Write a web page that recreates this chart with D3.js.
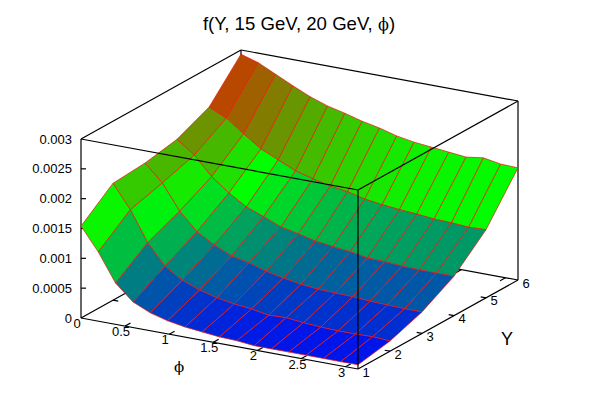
<!DOCTYPE html>
<html>
<head>
<meta charset="utf-8">
<script src="https://cdn.jsdelivr.net/npm/d3@7"></script>
<style>
body { margin: 0; background: white; }
text { font-family: "Liberation Sans", sans-serif; fill: #000; }
</style>
</head>
<body>
<svg width="599" height="420"></svg>
<script>
var titleText = "f(Y, 15 GeV, 20 GeV, ";
var phiGlyph = "\u03d5";

// Y rows, one list per Y value, values in phi order (pi/16 steps)
var yValues = [1, 2, 3, 4, 5, 6];
var phiStepCount = 16;
var zY1 = [0.00154, 0.00116, 0.00069, 0.00043, 0.00030, 0.00022, 0.00017, 0.00014, 0.00011, 0.00010, 0.00007, 0.00007, 0.00007, 0.00007, 0.00007, 0.00007, 0.00007];
var zY2 = [0.00196, 0.00157, 0.00107, 0.00073, 0.00055, 0.00044, 0.00036, 0.00031, 0.00028, 0.00023, 0.00024, 0.00021, 0.00019, 0.00018, 0.00018, 0.00019, 0.00017];
var zY3 = [0.00200, 0.00172, 0.00130, 0.00101, 0.00084, 0.00071, 0.00065, 0.00056, 0.00050, 0.00045, 0.00042, 0.00041, 0.00040, 0.00038, 0.00037, 0.00036, 0.00036];
var zY4 = [0.00210, 0.00189, 0.00158, 0.00136, 0.00118, 0.00107, 0.00095, 0.00089, 0.00082, 0.00078, 0.00075, 0.00070, 0.00069, 0.00067, 0.00066, 0.00066, 0.00066];
var zY5 = [0.00234, 0.00221, 0.00200, 0.00180, 0.00167, 0.00154, 0.00146, 0.00139, 0.00135, 0.00128, 0.00124, 0.00121, 0.00119, 0.00116, 0.00115, 0.00113, 0.00114];
var zY6 = [0.00293, 0.00284, 0.00270, 0.00256, 0.00243, 0.00233, 0.00226, 0.00218, 0.00212, 0.00204, 0.00199, 0.00196, 0.00193, 0.00190, 0.00194, 0.00189, 0.00188];
var zRows = [zY1, zY2, zY3, zY4, zY5, zY6];

var phiTicks = [0, 0.5, 1, 1.5, 2, 2.5, 3];
var yTicks = [1, 2, 3, 4, 5, 6];
var zTicks = [0, 0.0005, 0.001, 0.0015, 0.002, 0.0025, 0.003];

var svg = d3.select("svg");

// The plot is a linear oblique projection, each axis adds its own screen offset
var originX = 81, originY = 318;
var phiToX = d3.scaleLinear().domain([0, Math.PI]).range([0, 277]);
var phiToY = d3.scaleLinear().domain([0, Math.PI]).range([0, 51]);
var yToX = d3.scaleLinear().domain([1, 6]).range([0, 160]);
var yToY = d3.scaleLinear().domain([1, 6]).range([0, -89]);
var zToY = d3.scaleLinear().domain([0, 0.003]).range([0, -179]);

var color = d3.scaleLinear()
    .domain([0, 0.0015, 0.003])
    .range(["#0000ff", "#00ff00", "#ff0000"]);

function project(phi, y, z) {
    return [originX + phiToX(phi) + yToX(y),
            originY + phiToY(phi) + yToY(y) + zToY(z)];
}

function addLine(a, b, width) {
    svg.append("line")
        .attr("x1", a[0]).attr("y1", a[1])
        .attr("x2", b[0]).attr("y2", b[1])
        .attr("stroke", "#000")
        .attr("stroke-width", width || 1.2);
}

var PI = Math.PI;

// Box edges behind the surface
addLine(project(0, 1, 0), project(0, 6, 0));
addLine(project(0, 6, 0), project(PI, 6, 0));
addLine(project(PI, 1, 0), project(PI, 6, 0));
addLine(project(0, 1, 0), project(PI, 1, 0));
addLine(project(0, 1, 0), project(0, 1, 0.003));
addLine(project(0, 1, 0.003), project(0, 6, 0.003));
addLine(project(0, 6, 0.003), project(PI, 6, 0.003));
addLine(project(PI, 6, 0), project(PI, 6, 0.003));
addLine(project(0, 6, 0), project(0, 6, 0.003));

// Ticks, the front ones and their mirrors on the back edges
phiTicks.forEach(function(p) {
    if (p > 0) {
        addLine(project(p, 1, 0), project(p, 1.17, 0));
        addLine(project(p, 6, 0), project(p, 5.83, 0));
    }
    var pos = project(p, 1, 0);
    svg.append("text")
        .attr("x", pos[0] - 4).attr("y", pos[1] + 10)
        .attr("text-anchor", "middle")
        .attr("font-size", 13)
        .text(p);
});

yTicks.forEach(function(y) {
    if (y > 1 && y < 6) {
        addLine(project(PI, y, 0), project(PI - 0.06, y, 0));
        addLine(project(0, y, 0), project(0.06, y, 0));
    }
    var pos = project(PI, y, 0);
    svg.append("text")
        .attr("x", pos[0] + 8).attr("y", pos[1] + 7.5)
        .attr("text-anchor", "middle")
        .attr("font-size", 13)
        .text(y);
});

zTicks.forEach(function(z) {
    var pos = project(0, 1, z);
    if (z > 0 && z < 0.003) {
        addLine(pos, [pos[0] + 5, pos[1]]);
    }
    svg.append("text")
        .attr("x", pos[0] - 9).attr("y", pos[1] + 4.5)
        .attr("text-anchor", "end")
        .attr("font-size", 13)
        .text(z);
});

// Surface, painted back to front: far Y first, small phi first
var surface = svg.append("g");
var phiScale = d3.scaleLinear().domain([0, phiStepCount]).range([0, PI]);

for (var j = yValues.length - 2; j >= 0; j--) {
    for (var i = 0; i < phiStepCount; i++) {
        var corners = [
            [i, j], [i + 1, j], [i + 1, j + 1], [i, j + 1]
        ];
        var pts = corners.map(function(c) {
            return project(phiScale(c[0]), yValues[c[1]], zRows[c[1]][c[0]]);
        });
        var mean = d3.mean(corners, function(c) { return zRows[c[1]][c[0]]; });
        surface.append("path")
            .attr("d", d3.line()(pts) + "Z")
            .attr("fill", color(mean))
            .attr("stroke", "#f01410")
            .attr("stroke-width", 0.7)
            .attr("stroke-linejoin", "round");
    }
}

// Box edges in front of the surface
addLine(project(0, 1, 0.003), project(PI, 1, 0.003));
addLine(project(PI, 1, 0.003), project(PI, 6, 0.003));
addLine(project(PI, 1, 0), project(PI, 1, 0.003));

var title = svg.append("text")
    .attr("x", 299).attr("y", 30)
    .attr("text-anchor", "middle")
    .attr("font-size", 18.6);
title.append("tspan").text(titleText);
title.append("tspan").style("font-family", "DejaVu Serif").attr("font-size", 16).text(phiGlyph);
title.append("tspan").text(")");

svg.append("text")
    .attr("x", 179).attr("y", 372)
    .attr("text-anchor", "middle")
    .style("font-family", "DejaVu Serif")
    .attr("font-size", 15)
    .text(phiGlyph);

svg.append("text")
    .attr("x", 507).attr("y", 345)
    .attr("text-anchor", "middle")
    .attr("font-size", 18)
    .text("Y");
</script>
</body>
</html>
